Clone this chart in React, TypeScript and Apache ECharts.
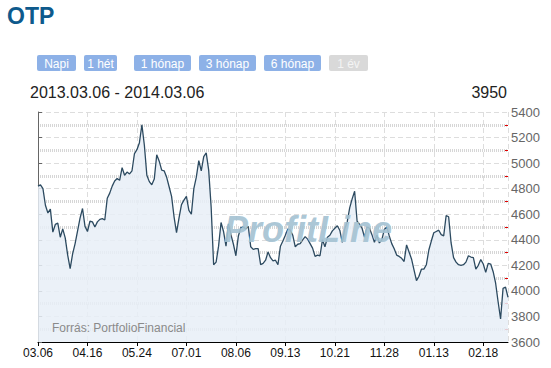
import React, { useEffect, useRef } from "react";
import * as echarts from "echarts";

const tickLabels = ["03.06", "04.16", "05.24", "07.01", "08.06", "09.13", "10.21", "11.28", "01.13", "02.18"];

const prices = [
  4820, 4830, 4800, 4670, 4610, 4640, 4460, 4520, 4530, 4420,
  4485, 4415, 4280, 4175, 4290, 4370, 4470, 4570, 4645, 4505,
  4465, 4545, 4540, 4500, 4540, 4560, 4565, 4555, 4725, 4765,
  4820, 4860, 4880, 4865, 4965, 4905, 4930, 4915, 4940, 5075,
  5105, 5160, 5300, 5140, 4905, 4855, 4830, 4875, 5065, 5015,
  4945, 4940, 4890, 4815, 4740, 4580, 4455, 4570, 4675, 4710,
  4740, 4630, 4600, 4800, 4890, 5020, 4940, 5050, 5080, 4945,
  4655, 4205, 4225, 4350, 4535, 4465, 4350, 4525, 4440, 4365,
  4275, 4430, 4495, 4500, 4485, 4505, 4345, 4325, 4330, 4330,
  4205, 4215, 4240, 4305, 4260, 4235, 4240, 4205, 4350, 4390,
  4435, 4485, 4475, 4435, 4345, 4365, 4370, 4400, 4425, 4405,
  4370, 4335, 4270, 4280, 4275, 4400, 4345, 4420, 4435, 4470,
  4490, 4510, 4475, 4380, 4485, 4540, 4650, 4720, 4780, 4545,
  4520, 4490, 4420, 4500, 4490, 4440, 4380, 4435, 4375, 4400,
  4480, 4500, 4430, 4370, 4330, 4280, 4270, 4255, 4230, 4360,
  4305, 4250, 4165, 4080, 4115, 4170, 4170, 4205, 4320, 4390,
  4455, 4465, 4475, 4440, 4430, 4590, 4580, 4375, 4260, 4225,
  4205, 4200, 4205, 4225, 4275, 4265, 4260, 4170, 4200, 4245,
  4210, 4145, 4215, 4210, 4150, 4060, 3915, 3780, 4020, 4030,
  3950,
];

const buttonLabels = ["Napi", "1 hét", "1 hónap", "3 hónap", "6 hónap", "1 év"];
const titleText = "OTP";
const dateRange = "2013.03.06 - 2014.03.06";
const sourceText = "Forrás: PortfolioFinancial";
const watermarkText = "ProfitLine";

const yMin = 3600;
const yMax = 5400;
const yStep = 200;
const labelStep = 20;
const minorTickValues = [3700, 3900, 4100, 4300, 4500, 4700, 4900, 5100, 5300];

const FONT = "'Liberation Sans', Arial, sans-serif";

export default function App() {
  const ref = useRef<HTMLDivElement>(null);

  useEffect(() => {
    if (!ref.current) return;
    const chart = echarts.init(ref.current, undefined, { renderer: "svg" });

    const btnX = [37, 84, 134, 199, 264, 329];
    const btnW = [39, 33, 57, 57, 57, 39];
    const buttons: any[] = buttonLabels.map((label, i) => {
      const disabled = i === buttonLabels.length - 1;
      return {
        type: "group",
        x: btnX[i],
        y: 55,
        children: [
          {
            type: "rect",
            shape: { x: 0, y: 0, width: btnW[i], height: 16, r: 2 },
            style: { fill: disabled ? "#d9d9d9" : "#8db1e7" },
          },
          {
            type: "text",
            style: {
              text: label,
              x: btnW[i] / 2,
              y: 8.5,
              textAlign: "center",
              textVerticalAlign: "middle",
              font: `12px ${FONT}`,
              fill: disabled ? "#f4f4f4" : "#ffffff",
            },
          },
        ],
      };
    });

    const lastValue = prices[prices.length - 1];

    chart.setOption({
      animation: false,
      backgroundColor: "#ffffff",
      grid: { left: 38, right: 43, top: 112, bottom: 26, containLabel: false, outerBoundsMode: "none" },
      xAxis: {
        type: "value",
        min: 0,
        max: prices.length - 1,
        interval: labelStep,
        axisLine: { show: true, onZero: false, lineStyle: { color: "#000", width: 1 } },
        axisTick: { show: true, length: 4, lineStyle: { color: "#000" } },
        axisLabel: {
          color: "#111",
          fontSize: 12,
          fontFamily: FONT,
          margin: 5,
          showMaxLabel: false,
          formatter: (v: number) => {
            const i = v / labelStep;
            return Number.isInteger(i) && tickLabels[i] ? tickLabels[i] : "";
          },
        },
        splitLine: { show: true, lineStyle: { color: "#dddddd", type: [5, 3], width: 1 } },
      },
      yAxis: [
        {
          type: "value",
          position: "right",
          min: yMin,
          max: yMax,
          interval: yStep,
          axisLine: { show: true, lineStyle: { color: "#666", width: 1 } },
          axisTick: { show: true, length: 4, lineStyle: { color: "#666" } },
          axisLabel: { color: "#666", fontSize: 13, fontFamily: FONT, margin: 3, formatter: (v: number) => String(v) },
          splitLine: { show: true, lineStyle: { color: "#dddddd", type: [5, 3], width: 1 } },
          minorTick: { show: true, splitNumber: 2, length: 0, lineStyle: { color: "rgba(0,0,0,0)" } },
          minorSplitLine: { show: true, lineStyle: { color: "#d6d6d6", type: [1, 1], width: 3 } },
        },
        {
          type: "value",
          position: "right",
          min: yMin,
          max: yMax,
          interval: yStep,
          axisLine: { show: false },
          axisTick: {
            show: true,
            inside: true,
            length: 3,
            customValues: minorTickValues,
            lineStyle: { color: "#e00000", width: 1 },
          },
          axisLabel: { show: false },
          splitLine: { show: false },
        },
      ],
      series: [
        {
          type: "line",
          data: prices.map((v, i) => [i, v]),
          symbol: "none",
          showSymbol: false,
          silent: true,
          lineStyle: { color: "#2c4a60", width: 1.3 },
          areaStyle: { color: "#e8eff7", opacity: 0.85 },
          z: 3,
        },
      ],
      graphic: [
        {
          type: "text",
          x: 7,
          y: 4,
          style: { text: titleText, font: `bold 23px ${FONT}`, fill: "#0e5a8c", textVerticalAlign: "top" },
        },
        ...buttons,
        {
          type: "text",
          x: 30,
          y: 84,
          style: { text: dateRange, font: `16px ${FONT}`, fill: "#222", textVerticalAlign: "top" },
        },
        {
          type: "text",
          x: 507,
          y: 84,
          style: { text: String(lastValue), font: `16px ${FONT}`, fill: "#222", textAlign: "right", textVerticalAlign: "top" },
        },
        {
          type: "text",
          x: 224,
          y: 211,
          z: 100,
          style: { text: watermarkText, font: `italic bold 36px ${FONT}`, fill: "#a4c2d2", opacity: 0.92, textVerticalAlign: "top" },
        },
        {
          type: "text",
          x: 52,
          y: 322,
          z: 100,
          style: { text: sourceText, font: `12px ${FONT}`, fill: "#8a8a8a", textVerticalAlign: "top" },
        },
      ],
    });

    return () => chart.dispose();
  }, []);

  return (
    <div
      ref={ref}
      style={{ position: "absolute", left: 0, top: 0, width: 551, height: 368, background: "#fff" }}
    />
  );
}
